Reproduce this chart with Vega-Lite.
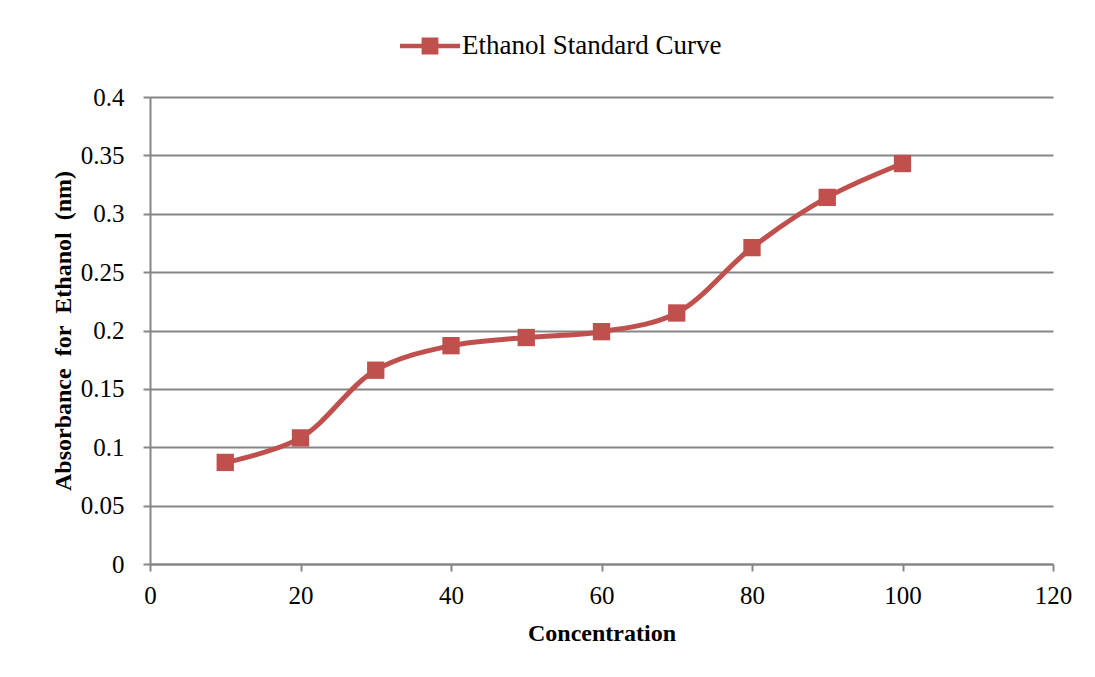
{
  "$schema": "https://vega.github.io/schema/vega-lite/v6.json",
  "width": 903,
  "height": 467,
  "autosize": {"type": "none"},
  "padding": {"left": 150, "top": 97, "right": 42, "bottom": 113},
  "background": "white",
  "config": {
    "font": "Liberation Serif",
    "view": {"stroke": null},
    "axis": {
      "labelFont": "Liberation Serif",
      "titleFont": "Liberation Serif",
      "labelFontSize": 25,
      "labelColor": "#000000",
      "labelFlush": false,
      "labelOverlap": false,
      "titleFontSize": 24,
      "titleFontWeight": "bold",
      "titleColor": "#000000",
      "domainColor": "#868686",
      "domainWidth": 2,
      "tickColor": "#868686",
      "tickWidth": 2,
      "tickSize": 7,
      "gridColor": "#868686",
      "gridWidth": 2,
      "gridOpacity": 1
    }
  },
  "data": {
    "values": [
      {"concentration": 10, "absorbance": 0.087, "series": "Ethanol Standard Curve"},
      {"concentration": 20, "absorbance": 0.108, "series": "Ethanol Standard Curve"},
      {"concentration": 30, "absorbance": 0.166, "series": "Ethanol Standard Curve"},
      {"concentration": 40, "absorbance": 0.187, "series": "Ethanol Standard Curve"},
      {"concentration": 50, "absorbance": 0.194, "series": "Ethanol Standard Curve"},
      {"concentration": 60, "absorbance": 0.199, "series": "Ethanol Standard Curve"},
      {"concentration": 70, "absorbance": 0.215, "series": "Ethanol Standard Curve"},
      {"concentration": 80, "absorbance": 0.271, "series": "Ethanol Standard Curve"},
      {"concentration": 90, "absorbance": 0.314, "series": "Ethanol Standard Curve"},
      {"concentration": 100, "absorbance": 0.343, "series": "Ethanol Standard Curve"}
    ]
  },
  "encoding": {
    "x": {
      "field": "concentration",
      "type": "quantitative",
      "title": "Concentration",
      "scale": {"domain": [0, 120], "nice": false, "zero": true},
      "axis": {
        "values": [0, 20, 40, 60, 80, 100, 120],
        "grid": false,
        "labelPadding": 12,
        "titlePadding": 13
      }
    },
    "y": {
      "field": "absorbance",
      "type": "quantitative",
      "title": "Absorbance\u00a0\u00a0for\u00a0\u00a0Ethanol\u00a0\u00a0(nm)",
      "scale": {"domain": [0, 0.4], "nice": false},
      "axis": {
        "values": [0, 0.05, 0.1, 0.15, 0.2, 0.25, 0.3, 0.35, 0.4],
        "labelExpr": "format(datum.value, '')",
        "grid": true,
        "labelPadding": 19,
        "titlePadding": 5
      }
    }
  },
  "layer": [
    {
      "mark": {"type": "line", "interpolate": "catmull-rom", "color": "#C0504D", "strokeWidth": 5, "strokeCap": "round"},
      "encoding": {}
    },
    {
      "mark": {"type": "point", "shape": "square", "filled": true, "opacity": 1, "size": 300},
      "encoding": {
        "color": {
          "field": "series",
          "type": "nominal",
          "scale": {"range": ["#C0504D"]},
          "legend": {
            "title": null,
            "orient": "none",
            "legendX": 250,
            "legendY": -81,
            "symbolType": "M-1,-0.075H1V0.075H-1Z M-0.28,-0.28H0.28V0.28H-0.28Z",
            "symbolSize": 3600,
            "labelFontSize": 27,
            "labelFont": "Liberation Serif",
            "labelColor": "#000000",
            "labelLimit": 0,
            "labelOffset": 2,
            "symbolStrokeWidth": 0,
            "symbolFillColor": "#C0504D",
            "symbolOpacity": 1
          }
        }
      }
    }
  ]
}
